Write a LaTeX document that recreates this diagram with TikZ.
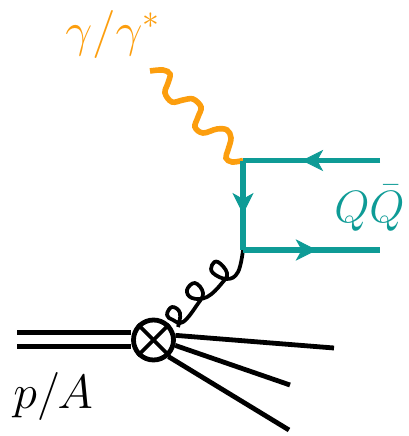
\RequirePackage{fix-cm}
\documentclass[tikz,border=0pt]{standalone}
\usepackage{xcolor}
\usepackage{amsmath}
\usetikzlibrary{arrows.meta,decorations.markings}
\definecolor{photonOrange}{RGB}{252,158,14}
\definecolor{quarkTeal}{RGB}{14,155,150}
\begin{document}
\begin{tikzpicture}[x=0.75pt,y=-0.75pt,
  lbl/.style={inner sep=0pt,font=\fontsize{36}{40}\selectfont},
  beam/.style={line width=3.6pt,black},
  jet/.style={line width=3.6pt,black},
  quark/.style={line width=3.8pt,quarkTeal},
  midtip/.style={postaction={decorate,decoration={markings,
    mark=at position #1 with {\arrow[line width=0.6pt]{Stealth[length=16pt,width=16pt,inset=4.5pt]}}}}}]
  \useasboundingbox (0,0) rectangle (408,436);
  \node[circle,draw,line width=3.6pt,minimum size=30pt,inner sep=0pt] (blob) at (153.5,340) {};
  \coordinate (beam1) at (17,332.5);
  \coordinate (beam2) at (17,346.5);
  \coordinate (photonend) at (150,71);
  \coordinate (qtop) at (243,160.5);
  \coordinate (qbot) at (243,250);
  \coordinate (outtop) at (380,160.5);
  \coordinate (outbot) at (380,250);
  \coordinate (jet1) at (334,348);
  \coordinate (jet2) at (290,385);
  \coordinate (jet3) at (289,430);
  % proton lines and cross
  \draw[beam] (beam1) -- (beam1 -| blob.west);
  \draw[beam] (beam2) -- (beam2 -| blob.west);
  \draw[line width=2.8pt] (blob.45) -- (blob.225);
  \draw[line width=2.8pt] (blob.135) -- (blob.315);
  % outgoing jets
  \draw[jet] (blob.12) -- (jet1);
  \draw[jet] (blob.-14) -- (jet2);
  \draw[jet] (blob.-48) -- (jet3);
  % gluon
  \draw[line width=2.8pt,line join=round]
    plot[smooth,tension=0.7] coordinates {(qbot) (238,272) (227,279) (213,273) (212,265) (218,262) (227,273) (222,283)
      (207,297) (192,298) (187,290) (195,283) (203,293) (197,305)
      (183,322) (173,320) (167,315) (172,307) (180,313) (178,327)};
  % photon
  \draw[line width=4.2pt,photonOrange]
    plot[smooth,tension=0.6] coordinates {(photonend) (163,70) (170,74) (168,83) (165,93) (172,102) (183,100) (193,99)
      (201,107) (198,117) (195,127) (203,133) (217,129) (227,130) (231,138) (228,150) (226,158) (232,162) (qtop)};
  % quark lines
  \draw[quark,midtip=0.57] (outtop) -- (qtop);
  \draw[quark,midtip=0.6] (qtop) -- (qbot);
  \draw[quark,midtip=0.54] (qbot) -- (outbot);
  % labels
  \node[lbl,text=photonOrange,anchor=base west] (photonlbl) at (65,46) {$\gamma/\gamma^{*}$};
  \node[lbl,text=quarkTeal,anchor=base west,font=\fontsize{34}{38}\selectfont] (qqbarlbl) at (334,222) {$Q\bar{Q}$};
  \node[lbl,anchor=base west] (beamlbl) at (13,408) {$p/A$};
\end{tikzpicture}
\end{document}
